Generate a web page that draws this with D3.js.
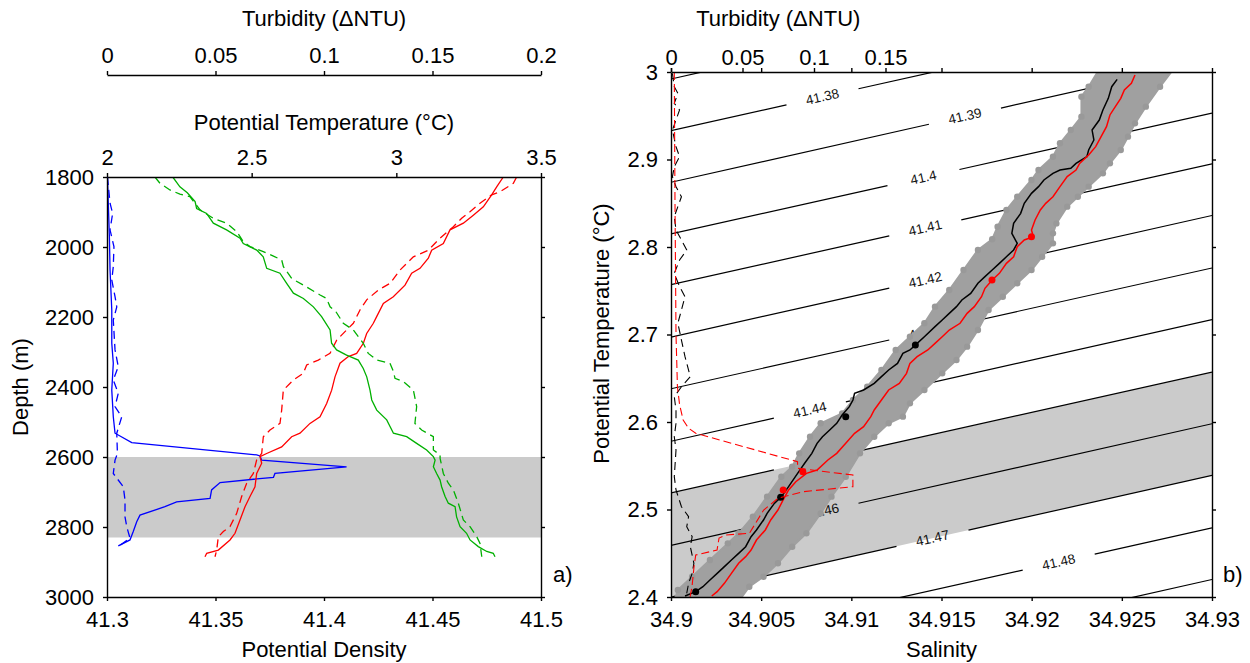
<!DOCTYPE html>
<html lang="en">
<head>
<meta charset="UTF-8">
<title>Turbidity, temperature and density profiles</title>
<style>
  body { margin: 0; background: #fff; }
  svg { display: block; background: #fff; font-family: "Liberation Sans", Arial, sans-serif; }
  .axis path, .axis line { stroke: #000; stroke-width: 1.4px; }
  .axis text { font-size: 22px; fill: #000; font-family: "Liberation Sans", Arial, sans-serif; }
  .title { font-size: 22px; fill: #000; }
  .clabel { font-size: 13.5px; fill: #111; }
</style>
</head>
<body>
<svg id="chart" width="1250" height="663"></svg>
<script src="https://d3js.org/d3.v7.min.js"></script>
<script>
// ---- panel a) profiles, [depth, value] ----
const turbSolid = [[1800,0.0002],[1875,0.0006],[1971,0.0011],[2066,0.0014],[2180,0.0022],[2275,0.0022],[2332,0.0029],[2409,0.0022],[2485,0.0029],[2532,0.0037],[2559,0.0114],[2594,0.0690],[2597,0.0705],[2609,0.0713],[2628,0.1104],[2647,0.0774],[2658,0.0767],[2673,0.0521],[2694,0.0482],[2718,0.0475],[2728,0.0321],[2742,0.0267],[2766,0.0152],[2785,0.0137],[2813,0.0121],[2837,0.0106],[2854,0.0052]]
const turbDashed = [[1800,0.0002],[1875,0.0014],[1904,0.0026],[1951,0.0014],[1999,0.0032],[2056,0.0029],[2094,0.0022],[2142,0.0037],[2171,0.0045],[2209,0.0029],[2294,0.0037],[2342,0.0052],[2380,0.0029],[2418,0.0052],[2456,0.0037],[2485,0.0068],[2532,0.0045],[2590,0.0048],[2609,0.0037],[2647,0.0029],[2685,0.0075],[2723,0.0083],[2771,0.0083],[2799,0.0091],[2832,0.0106],[2856,0.0052]]
const tempSolid = [[1800,3.3698],[1828,3.3468],[1851,3.3295],[1885,3.3007],[1909,3.2661],[1932,3.2316],[1951,3.1855],[1990,3.1624],[2009,3.1221],[2032,3.1106],[2061,3.0818],[2075,3.0530],[2109,3.0300],[2142,2.9896],[2161,2.9551],[2199,2.9320],[2218,2.9205],[2247,2.8975],[2275,2.8860],[2304,2.8629],[2313,2.8341],[2332,2.8053],[2371,2.7880],[2409,2.7765],[2447,2.7592],[2485,2.7362],[2504,2.7016],[2532,2.6670],[2542,2.6382],[2571,2.6037],[2590,2.5518],[2599,2.5288],[2618,2.5346],[2647,2.5173],[2685,2.5115],[2713,2.4942],[2742,2.4770],[2780,2.4597],[2818,2.4424],[2837,2.4251],[2866,2.3848],[2875,2.3445],[2885,2.3387]]
const tempDashed = [[1800,3.4159],[1818,3.4044],[1842,3.3583],[1851,3.3295],[1875,3.2892],[1899,3.2546],[1918,3.2258],[1942,3.1970],[1975,3.1509],[2009,3.1106],[2028,3.0588],[2066,3.0127],[2104,2.9781],[2123,2.9378],[2151,2.8975],[2180,2.8744],[2218,2.8514],[2237,2.8283],[2266,2.7938],[2304,2.7707],[2323,2.7304],[2337,2.6901],[2361,2.6786],[2380,2.6440],[2409,2.6094],[2466,2.6037],[2504,2.5979],[2523,2.5634],[2542,2.5403],[2590,2.5346],[2608,2.5173],[2647,2.5058],[2675,2.4827],[2713,2.4654],[2761,2.4482],[2799,2.4251],[2813,2.4021],[2828,2.3848],[2866,2.3790],[2885,2.3733]]
const densSolid = [[1800,41.3303],[1828,41.3336],[1845,41.3370],[1870,41.3406],[1890,41.3413],[1904,41.3459],[1932,41.3490],[1951,41.3551],[1975,41.3613],[1990,41.3628],[2009,41.3690],[2028,41.3720],[2061,41.3736],[2075,41.3797],[2104,41.3828],[2132,41.3859],[2147,41.3905],[2171,41.3951],[2199,41.3989],[2237,41.4028],[2275,41.4035],[2294,41.4058],[2309,41.4104],[2323,41.4158],[2347,41.4181],[2371,41.4197],[2409,41.4212],[2437,41.4220],[2466,41.4243],[2494,41.4289],[2532,41.4320],[2542,41.4381],[2561,41.4427],[2580,41.4473],[2599,41.4504],[2609,41.4512],[2628,41.4504],[2647,41.4519],[2666,41.4535],[2685,41.4542],[2713,41.4558],[2732,41.4573],[2742,41.4604],[2771,41.4611],[2799,41.4627],[2818,41.4657],[2837,41.4673],[2856,41.4711],[2870,41.4750],[2875,41.4780],[2885,41.4788]]
const densDashed = [[1800,41.3221],[1818,41.3244],[1837,41.3290],[1849,41.3336],[1856,41.3382],[1894,41.3429],[1918,41.3490],[1932,41.3551],[1956,41.3598],[1985,41.3628],[1999,41.3659],[2013,41.3720],[2026,41.3767],[2037,41.3805],[2056,41.3813],[2090,41.3851],[2109,41.3905],[2137,41.3982],[2147,41.4012],[2171,41.4028],[2185,41.4055],[2218,41.4089],[2237,41.4135],[2275,41.4181],[2304,41.4204],[2323,41.4243],[2332,41.4304],[2356,41.4320],[2375,41.4327],[2385,41.4366],[2409,41.4412],[2456,41.4427],[2504,41.4419],[2523,41.4450],[2542,41.4504],[2580,41.4504],[2594,41.4535],[2604,41.4535],[2647,41.4550],[2675,41.4573],[2694,41.4596],[2732,41.4619],[2780,41.4642],[2799,41.4673],[2828,41.4704],[2847,41.4719],[2885,41.4727]]
const depthBand = [2600, 2830]

const depthTicks = [1800, 2000, 2200, 2400, 2600, 2800, 3000]
const densTicks = [41.3, 41.35, 41.4, 41.45, 41.5]
const tempTicks = [2, 2.5, 3, 3.5]
const turbTicksA = [0, 0.05, 0.1, 0.15, 0.2]

// ---- panel b) theta-S, [salinity, theta] ----
const tsBlack = [[34.92474,2.9916],[34.92444,2.9832],[34.92425,2.9699],[34.92395,2.9566],[34.92375,2.9451],[34.92335,2.9337],[34.92345,2.9223],[34.92316,2.9109],[34.92306,2.9032],[34.92246,2.8956],[34.92217,2.8899],[34.92157,2.8880],[34.92118,2.8842],[34.92068,2.8766],[34.92038,2.8690],[34.91999,2.8613],[34.91959,2.8499],[34.91939,2.8385],[34.91900,2.8270],[34.91890,2.8156],[34.91920,2.8042],[34.91900,2.7966],[34.91860,2.7889],[34.91821,2.7813],[34.91781,2.7737],[34.91741,2.7661],[34.91702,2.7585],[34.91662,2.7470],[34.91613,2.7394],[34.91583,2.7318],[34.91543,2.7242],[34.91504,2.7166],[34.91464,2.7090],[34.91405,2.6975],[34.91365,2.6899],[34.91325,2.6823],[34.91286,2.6785],[34.91256,2.6670],[34.91207,2.6594],[34.91167,2.6518],[34.91127,2.6442],[34.91068,2.6366],[34.91018,2.6328],[34.91009,2.6251],[34.90989,2.6175],[34.90949,2.6080],[34.90919,2.5985],[34.90880,2.5909],[34.90840,2.5832],[34.90810,2.5756],[34.90781,2.5642],[34.90741,2.5528],[34.90702,2.5413],[34.90652,2.5261],[34.90612,2.5147],[34.90573,2.5070],[34.90533,2.4956],[34.90513,2.4880],[34.90474,2.4766],[34.90444,2.4689],[34.90414,2.4575],[34.90375,2.4499],[34.90335,2.4423],[34.90296,2.4347],[34.90256,2.4270],[34.90216,2.4194],[34.90177,2.4118],[34.90137,2.4061],[34.90078,2.4011]]
const tsRed = [[34.92573,2.9966],[34.92553,2.9871],[34.92514,2.9794],[34.92494,2.9699],[34.92464,2.9604],[34.92434,2.9509],[34.92415,2.9375],[34.92385,2.9261],[34.92355,2.9147],[34.92316,2.9051],[34.92266,2.8956],[34.92246,2.8880],[34.92197,2.8804],[34.92157,2.8690],[34.92118,2.8575],[34.92078,2.8499],[34.92048,2.8423],[34.92019,2.8309],[34.91999,2.8194],[34.92009,2.8118],[34.91959,2.8080],[34.91920,2.8004],[34.91900,2.7889],[34.91860,2.7813],[34.91821,2.7699],[34.91781,2.7623],[34.91741,2.7528],[34.91722,2.7432],[34.91682,2.7318],[34.91642,2.7242],[34.91603,2.7128],[34.91543,2.7051],[34.91504,2.6975],[34.91464,2.6899],[34.91424,2.6823],[34.91365,2.6747],[34.91325,2.6670],[34.91306,2.6556],[34.91266,2.6442],[34.91207,2.6366],[34.91167,2.6251],[34.91127,2.6137],[34.91108,2.6061],[34.91068,2.5947],[34.91018,2.5870],[34.90969,2.5756],[34.90919,2.5642],[34.90870,2.5566],[34.90810,2.5451],[34.90751,2.5413],[34.90692,2.5318],[34.90652,2.5223],[34.90622,2.5109],[34.90593,2.4994],[34.90553,2.4880],[34.90523,2.4766],[34.90474,2.4651],[34.90444,2.4537],[34.90414,2.4461],[34.90375,2.4385],[34.90335,2.4270],[34.90296,2.4156],[34.90256,2.4061],[34.90226,2.4011]]
const blackBlobs = [[34.90608,2.5139],[34.91355,2.688],[34.90137,2.406],[34.90969,2.606]]
const redBlobs = [[34.90622,2.5223],[34.90731,2.5432],[34.91999,2.8118],[34.9178,2.7623]]

// edges of the grey cloud of all casts
const cloudLeft = [[34.92395,3.01],[34.92316,2.9832],[34.92276,2.9718],[34.92276,2.9490],[34.92217,2.9337],[34.92157,2.9185],[34.92118,2.9032],[34.92038,2.8880],[34.91999,2.8766],[34.91920,2.8575],[34.91860,2.8423],[34.91811,2.8232],[34.91781,2.8088],[34.91702,2.7966],[34.91622,2.7737],[34.91543,2.7509],[34.91464,2.7318],[34.91405,2.7128],[34.91325,2.6975],[34.91246,2.6823],[34.91167,2.6594],[34.91088,2.6404],[34.91009,2.6251],[34.90949,2.6099],[34.90830,2.5985],[34.90771,2.5832],[34.90711,2.5642],[34.90672,2.5490],[34.90612,2.5375],[34.90533,2.5147],[34.90454,2.4918],[34.90375,2.4728],[34.90315,2.4613],[34.90216,2.4423],[34.90117,2.4232],[34.90038,2.4080],[34.90018,2.3950]]
const cloudRight = [[34.92811,3.01],[34.92712,2.9832],[34.92633,2.9604],[34.92573,2.9413],[34.92534,2.9261],[34.92494,2.9109],[34.92434,2.8956],[34.92395,2.8842],[34.92316,2.8690],[34.92256,2.8575],[34.92197,2.8461],[34.92137,2.8270],[34.92118,2.8156],[34.92118,2.8042],[34.92058,2.7889],[34.91999,2.7737],[34.91920,2.7585],[34.91840,2.7432],[34.91761,2.7280],[34.91702,2.7051],[34.91642,2.6861],[34.91583,2.6709],[34.91504,2.6556],[34.91405,2.6366],[34.91325,2.6213],[34.91286,2.6061],[34.91207,2.5985],[34.91127,2.5832],[34.91048,2.5642],[34.90969,2.5375],[34.90890,2.5147],[34.90830,2.4956],[34.90751,2.4728],[34.90672,2.4575],[34.90593,2.4385],[34.90513,2.4232],[34.90434,2.4118],[34.90375,2.3950]]

// turbidity against theta, [theta, turbidity]
const turbRedB = [[3.0,0.0023],[2.85,0.0028],[2.7,0.0035],[2.64,0.0045],[2.62,0.006],[2.6023,0.0085],[2.5928,0.0123],[2.5871,0.0173],[2.5546,0.0885],[2.5471,0.0885],[2.5394,0.1272],[2.5261,0.1272],[2.5203,0.0922],[2.5128,0.0748],[2.4994,0.0648],[2.4728,0.0548],[2.4709,0.0385],[2.4674,0.0336],[2.4537,0.0322],[2.4480,0.0173],[2.4346,0.0161],[2.4118,0.0147],[2.4000,0.0133]]
const turbBlackB = [[2.9985,0.0010],[2.9832,0.0023],[2.9756,0.0048],[2.9642,0.0023],[2.9566,0.0060],[2.9451,0.0035],[2.9337,0.0010],[2.9147,0.0035],[2.9032,0.0060],[2.8918,0.0023],[2.8803,0.0010],[2.8689,0.0035],[2.8575,0.0073],[2.8461,0.0048],[2.8347,0.0023],[2.8194,0.0035],[2.8080,0.0073],[2.7966,0.0110],[2.7851,0.0060],[2.7699,0.0023],[2.7547,0.0060],[2.7432,0.0098],[2.7280,0.0073],[2.7128,0.0048],[2.6937,0.0073],[2.6747,0.0098],[2.6518,0.0135],[2.6403,0.0073],[2.6289,0.0023],[2.6137,0.0035],[2.5985,0.0035],[2.5832,0.0023],[2.5680,0.0035],[2.5375,0.0023],[2.5223,0.0035],[2.5032,0.0073],[2.4918,0.0123],[2.4803,0.0110],[2.4689,0.0148],[2.4575,0.0135],[2.4385,0.0160],[2.4270,0.0148],[2.4156,0.0123],[2.4042,0.0110]]

// isopycnals: level, theta at S=34.9 and at S=34.93, label position (salinity)
const contourLevels = [41.37, 41.38, 41.39, 41.40, 41.41, 41.42, 41.43, 41.44, 41.45, 41.46, 41.47, 41.48, 41.49]
const contourThetaLeft = [2.992, 2.933, 2.874, 2.815, 2.757, 2.697, 2.638, 2.578, 2.519, 2.459, 2.400, 2.341, 2.281]
const contourThetaRight = [3.131, 3.071, 3.013, 2.953, 2.895, 2.836, 2.776, 2.717, 2.657, 2.598, 2.539, 2.479, 2.420]
const contourLabelSal = [null, 34.9084, 34.9163, 34.9140, 34.9141, 34.9141, 34.9141, 34.9077, 34.9077, 34.9084, 34.9145, 34.9215, null]
const densityBand = [41.45, 41.47]

const salTicks = [34.9, 34.905, 34.91, 34.915, 34.92, 34.925, 34.93]
const thetaTicks = [2.4, 2.5, 2.6, 2.7, 2.8, 2.9, 3]
const turbTicksB = [0, 0.05, 0.1, 0.15]

const svg = d3.select('#chart')
const fmt = d => String(+d.toFixed(4))
const BLUE = '#0000ff', GREEN = '#00b000', RED = '#ff0000'

const defs = svg.append('defs')

// ===================== panel a =====================
const A = { left: 107, right: 541, top: 177, bottom: 597, turbAxis: 75 }
const yDepth = d3.scaleLinear().domain([1800, 3000]).range([A.top, A.bottom])
const xDens = d3.scaleLinear().domain([41.3, 41.5]).range([A.left, A.right])
const xTemp = d3.scaleLinear().domain([2, 3.5]).range([A.left, A.right])
const xTurb = d3.scaleLinear().domain([0, 0.2]).range([A.left, A.right])

defs.append('clipPath').attr('id', 'clipA').append('rect')
  .attr('x', A.left).attr('y', A.top).attr('width', A.right - A.left).attr('height', A.bottom - A.top)

const gA = svg.append('g').attr('clip-path', 'url(#clipA)')
gA.append('rect')
  .attr('x', A.left).attr('width', A.right - A.left)
  .attr('y', yDepth(depthBand[0])).attr('height', yDepth(depthBand[1]) - yDepth(depthBand[0]))
  .attr('fill', '#cbcbcb')

const profiles = [
  { data: turbDashed, x: xTurb, color: BLUE, dash: '8,5' },
  { data: turbSolid, x: xTurb, color: BLUE, dash: null },
  { data: tempDashed, x: xTemp, color: RED, dash: '8,5' },
  { data: tempSolid, x: xTemp, color: RED, dash: null },
  { data: densDashed, x: xDens, color: GREEN, dash: '8,5' },
  { data: densSolid, x: xDens, color: GREEN, dash: null }
]
profiles.forEach(p => {
  gA.append('path')
    .attr('d', d3.line().x(d => p.x(d[1])).y(d => yDepth(d[0]))(p.data))
    .attr('fill', 'none')
    .attr('stroke', p.color)
    .attr('stroke-width', 1.3)
    .attr('stroke-dasharray', p.dash)
})

const styleAxis = g => g.attr('class', 'axis').attr('font-size', null).attr('font-family', null)

svg.append('g').attr('transform', `translate(0,${A.bottom})`)
  .call(d3.axisBottom(xDens).tickValues(densTicks).tickFormat(fmt).tickSize(4).tickSizeOuter(0).tickPadding(10))
  .call(styleAxis)
svg.append('g').attr('transform', `translate(${A.left},0)`)
  .call(d3.axisLeft(yDepth).tickValues(depthTicks).tickFormat(fmt).tickSize(4).tickSizeOuter(0).tickPadding(9))
  .call(styleAxis)
svg.append('g').attr('transform', `translate(0,${A.top})`)
  .call(d3.axisTop(xTemp).tickValues(tempTicks).tickFormat(fmt).tickSize(4).tickSizeOuter(0).tickPadding(8))
  .call(styleAxis)
svg.append('g').attr('transform', `translate(${A.right},0)`)
  .call(d3.axisRight(yDepth).tickValues(depthTicks).tickFormat('').tickSize(4).tickSizeOuter(0))
  .call(styleAxis)
svg.append('g').attr('transform', `translate(0,${A.turbAxis})`)
  .call(d3.axisTop(xTurb).tickValues(turbTicksA).tickFormat(fmt).tickSize(4).tickSizeOuter(0).tickPadding(8))
  .call(styleAxis)

const cxA = (A.left + A.right) / 2
svg.append('text').attr('class', 'title').attr('x', cxA).attr('y', 26).attr('text-anchor', 'middle').text('Turbidity (\u0394NTU)')
svg.append('text').attr('class', 'title').attr('x', cxA).attr('y', 130).attr('text-anchor', 'middle').text('Potential Temperature (\u00B0C)')
svg.append('text').attr('class', 'title').attr('x', cxA).attr('y', 657).attr('text-anchor', 'middle').text('Potential Density')
svg.append('text').attr('class', 'title').attr('text-anchor', 'middle')
  .attr('transform', `translate(28,${(A.top + A.bottom) / 2}) rotate(-90)`).text('Depth (m)')
svg.append('text').attr('class', 'title').attr('x', 553).attr('y', 582).text('a)')

// ===================== panel b =====================
const B = { left: 671, right: 1212, top: 72, bottom: 597 }
const xSal = d3.scaleLinear().domain([34.9, 34.93]).range([B.left, B.right])
const yTheta = d3.scaleLinear().domain([2.4, 3.0]).range([B.bottom, B.top])
const xTurbB = d3.scaleLinear().domain([0, 0.15]).range([B.left, B.left + 214.5])

defs.append('clipPath').attr('id', 'clipB').append('rect')
  .attr('x', B.left).attr('y', B.top).attr('width', B.right - B.left).attr('height', B.bottom - B.top)

const gB = svg.append('g').attr('clip-path', 'url(#clipB)')

// grey band between two isopycnals
const iA = contourLevels.indexOf(densityBand[0]), iB = contourLevels.indexOf(densityBand[1])
const bandPts = [
  [34.9, contourThetaLeft[iA]], [34.93, contourThetaRight[iA]],
  [34.93, contourThetaRight[iB]], [34.9, contourThetaLeft[iB]]
]
gB.append('path')
  .attr('d', d3.line().x(d => xSal(d[0])).y(d => yTheta(d[1]))(bandPts) + 'Z')
  .attr('fill', '#cbcbcb')

// isopycnal lines with inline labels
const GAP = 36
contourLevels.forEach((lev, i) => {
  const x0 = xSal(34.9), y0 = yTheta(contourThetaLeft[i])
  const x1 = xSal(34.93), y1 = yTheta(contourThetaRight[i])
  const yAt = x => y0 + (x - x0) / (x1 - x0) * (y1 - y0)
  let segs = [[[x0, y0], [x1, y1]]]
  if (contourLabelSal[i] !== null) {
    const cx = xSal(contourLabelSal[i])
    segs = [[[x0, y0], [cx - GAP, yAt(cx - GAP)]], [[cx + GAP, yAt(cx + GAP)], [x1, y1]]]
    const ang = Math.atan2(y1 - y0, x1 - x0) * 180 / Math.PI
    gB.append('text').attr('class', 'clabel')
      .attr('text-anchor', 'middle').attr('dominant-baseline', 'central')
      .attr('transform', `translate(${cx},${yAt(cx)}) rotate(${ang})`)
      .text(fmt(lev))
  }
  segs.forEach(s => {
    gB.append('line')
      .attr('x1', s[0][0]).attr('y1', s[0][1]).attr('x2', s[1][0]).attr('y2', s[1][1])
      .attr('stroke', '#000').attr('stroke-width', 1.2)
  })
})

// grey cloud of all data
const cloudPoly = cloudLeft.concat(cloudRight.slice().reverse())
gB.append('path')
  .attr('d', d3.line().x(d => xSal(d[0])).y(d => yTheta(d[1]))(cloudPoly) + 'Z')
  .attr('fill', '#a0a0a0').attr('stroke', '#a0a0a0').attr('stroke-width', 2).attr('stroke-linejoin', 'round')
gB.selectAll('.cdot').data(cloudPoly).enter().append('circle')
  .attr('class', 'cdot')
  .attr('cx', d => xSal(d[0])).attr('cy', d => yTheta(d[1])).attr('r', 3.2).attr('fill', '#999')

// theta-S casts
const tsLine = d3.line().x(d => xSal(d[0])).y(d => yTheta(d[1]))
gB.append('path').attr('d', tsLine(tsBlack)).attr('fill', 'none').attr('stroke', '#000').attr('stroke-width', 1.5)
gB.append('path').attr('d', tsLine(tsRed)).attr('fill', 'none').attr('stroke', RED).attr('stroke-width', 1.5)
gB.selectAll('.bblob').data(blackBlobs).enter().append('circle').attr('class', 'bblob')
  .attr('cx', d => xSal(d[0])).attr('cy', d => yTheta(d[1])).attr('r', 3.5).attr('fill', '#000')
gB.selectAll('.rblob').data(redBlobs).enter().append('circle').attr('class', 'rblob')
  .attr('cx', d => xSal(d[0])).attr('cy', d => yTheta(d[1])).attr('r', 3.5).attr('fill', RED)

// turbidity against theta
const turbLine = d3.line().x(d => xTurbB(d[1])).y(d => yTheta(d[0]))
gB.append('path').attr('d', turbLine(turbBlackB)).attr('fill', 'none').attr('stroke', '#000').attr('stroke-width', 1.1).attr('stroke-dasharray', '8,5')
gB.append('path').attr('d', turbLine(turbRedB)).attr('fill', 'none').attr('stroke', RED).attr('stroke-width', 1.1).attr('stroke-dasharray', '8,4')

svg.append('g').attr('transform', `translate(0,${B.bottom})`)
  .call(d3.axisBottom(xSal).tickValues(salTicks).tickFormat(fmt).tickSize(4).tickSizeOuter(0).tickPadding(10))
  .call(styleAxis)
svg.append('g').attr('transform', `translate(${B.left},0)`)
  .call(d3.axisLeft(yTheta).tickValues(thetaTicks).tickFormat(fmt).tickSize(4).tickSizeOuter(0).tickPadding(9))
  .call(styleAxis)
svg.append('g').attr('transform', `translate(0,${B.top})`)
  .call(d3.axisTop(xSal).tickValues(salTicks).tickFormat('').tickSize(4).tickSizeOuter(0))
  .call(styleAxis)
svg.append('g').attr('transform', `translate(${B.right},0)`)
  .call(d3.axisRight(yTheta).tickValues(thetaTicks).tickFormat('').tickSize(4).tickSizeOuter(0))
  .call(styleAxis)
svg.append('g').attr('transform', `translate(0,${B.top})`)
  .call(d3.axisTop(xTurbB).tickValues(turbTicksB).tickFormat(fmt).tickSize(4).tickSizeOuter(0).tickPadding(3))
  .call(styleAxis)
  .call(g => g.select('.domain').remove())

svg.append('text').attr('class', 'title').attr('x', xTurbB(0.075)).attr('y', 26).attr('text-anchor', 'middle').text('Turbidity (\u0394NTU)')
svg.append('text').attr('class', 'title').attr('x', (B.left + B.right) / 2).attr('y', 657).attr('text-anchor', 'middle').text('Salinity')
svg.append('text').attr('class', 'title').attr('text-anchor', 'middle')
  .attr('transform', `translate(609,${(B.top + B.bottom) / 2 - 1}) rotate(-90)`).text('Potential Temperature (\u00B0C)')
svg.append('text').attr('class', 'title').attr('x', 1223).attr('y', 582).text('b)')
</script>
</body>
</html>
